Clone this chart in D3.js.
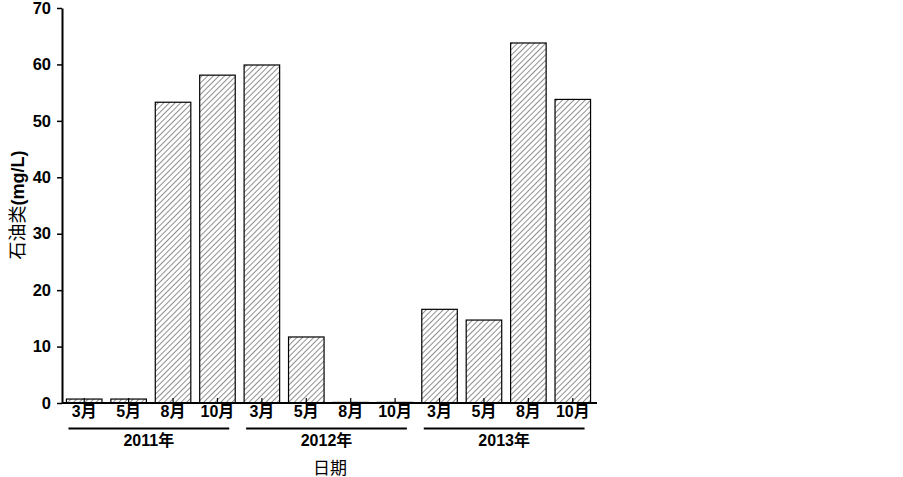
<!DOCTYPE html>
<html><head><meta charset="utf-8">
<script src="https://cdn.jsdelivr.net/npm/d3@7/dist/d3.min.js"></script>
<style>body{margin:0;background:#fff}</style>
</head><body><svg id="c" width="903" height="477"></svg>
<script>
const months = ["3月","5月","8月","10月","3月","5月","8月","10月","3月","5月","8月","10月"];
const years = ["2011年","2012年","2013年"];
const values = [0.7,0.7,53.3,58.1, 59.9,11.7,0.1,0.1, 16.6,14.7,63.8,53.8];
const yTicks = [0,10,20,30,40,50,60,70];
const yTitle = "石油类(mg/L)";
const xTitle = "日期";

const svg = d3.select("#c");
const font = "'Liberation Sans','Noto Sans CJK SC',Arial,sans-serif";
const defs = svg.append("defs");
const pat = defs.append("pattern").attr("id","hatch").attr("patternUnits","userSpaceOnUse")
  .attr("width",4).attr("height",4).attr("patternTransform","rotate(45)");
pat.append("rect").attr("width",4).attr("height",4).attr("fill","#fff");
pat.append("line").attr("x1",0).attr("y1",0).attr("x2",0).attr("y2",4).attr("stroke","#444").attr("stroke-width",1.2);

const idx = months.map((m,i)=>i);
const x = d3.scaleBand().domain(idx).range([62,595]).paddingInner(0.2).paddingOuter(0.1);
const y = d3.scaleLinear().domain([0,70]).range([403,8]);

// bars
svg.append("g").selectAll("rect").data(values).join("rect")
  .attr("x",(d,i)=>x(i)).attr("width",x.bandwidth())
  .attr("y",d=>y(d)).attr("height",d=>y(0)-y(d))
  .attr("fill","url(#hatch)").attr("stroke","#000").attr("stroke-width",1.2);

// y axis
const ya = svg.append("g").attr("transform","translate(62,0)")
  .call(d3.axisLeft(y).tickValues(yTicks).tickSize(5).tickSizeOuter(0).tickPadding(6));
ya.select(".domain").attr("stroke","#000").attr("stroke-width",2);
ya.selectAll(".tick line").attr("stroke","#000").attr("stroke-width",1.5);
ya.selectAll("text").attr("font-family",font).attr("font-weight","bold").attr("font-size",16.5).attr("fill","#000");

// x axis
const xa = svg.append("g").attr("transform","translate(0,403)")
  .call(d3.axisBottom(x).tickSize(-5).tickSizeOuter(0).tickPadding(3).tickFormat(i=>months[i]));
xa.select(".domain").attr("stroke","#000").attr("stroke-width",2).attr("d","M62,0H597");
xa.selectAll(".tick line").attr("stroke","#000").attr("stroke-width",1.2);
xa.selectAll("text").attr("font-family",font).attr("font-weight","bold").attr("font-size",16).attr("fill","#000")
  .attr("dy","0.71em");

// year group lines
years.forEach((yr,g)=>{
  const x0 = x(g*4) + 2, x1 = x(g*4+3) + x.bandwidth() - 6;
  svg.append("line").attr("x1",x0).attr("x2",x1).attr("y1",428.5).attr("y2",428.5)
    .attr("stroke","#000").attr("stroke-width",2);
  svg.append("text").attr("x",(x0+x1)/2).attr("y",446)
    .attr("text-anchor","middle").attr("font-family",font).attr("font-weight","bold")
    .attr("font-size",16).text(yr);
});

// titles
svg.append("text").attr("x",330).attr("y",474).attr("text-anchor","middle")
  .attr("font-family",font).attr("font-size",17).text(xTitle);
const yt = svg.append("text").attr("transform","translate(24,205) rotate(-90)")
  .attr("text-anchor","middle").attr("font-family",font).attr("font-size",18);
yt.append("tspan").text("石油类");
yt.append("tspan").attr("font-weight","bold").text("(mg/L)");
</script></body></html>
